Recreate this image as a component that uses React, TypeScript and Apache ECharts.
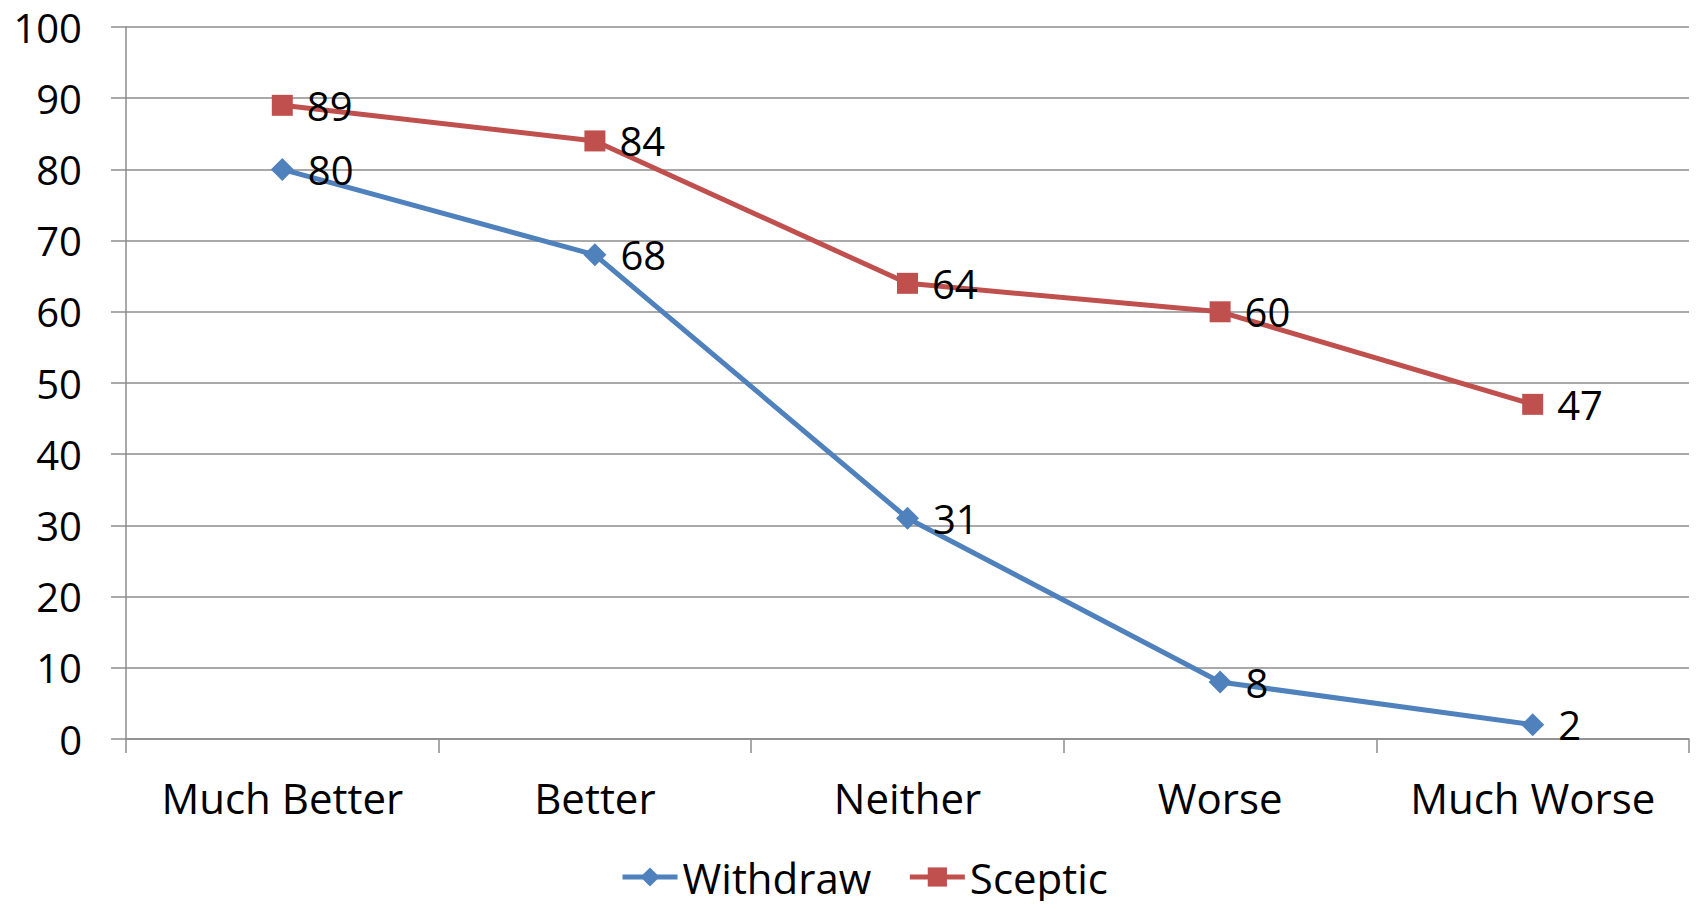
import React, { useEffect, useRef } from "react";
import * as echarts from "echarts";

const categories = ["Much Better", "Better", "Neither", "Worse", "Much Worse"];
const withdrawValues = [80, 68, 31, 8, 2];
const scepticValues = [89, 84, 64, 60, 47];
const yTicks = { min: 0, max: 100, interval: 10 };

const FONT = "'Open Sans', sans-serif";
const GRID_COLOR = "#8c8c8c";

export default function App() {
  const ref = useRef<HTMLDivElement>(null);
  useEffect(() => {
    if (!ref.current) return;
    const chart = echarts.init(ref.current, undefined, { renderer: "svg" });
    const labelStyle = {
      show: true,
      position: "right" as const,
      distance: 14,
      color: "#000",
      fontSize: 40,
      fontFamily: FONT,
    };
    chart.setOption({
      animation: false,
      textStyle: { fontFamily: FONT },
      grid: { left: 126, right: 9, top: 27, bottom: 170, containLabel: false },
      legend: {
        bottom: 2,
        left: 615,
        itemWidth: 55,
        itemHeight: 24,
        itemGap: 36,
        lineStyle: { width: 5 },
        textStyle: { fontSize: 42, color: "#000", fontFamily: FONT, lineHeight: 50 },
        data: ["Withdraw", "Sceptic"],
      },
      xAxis: {
        type: "category",
        data: categories,
        boundaryGap: true,
        axisLine: { show: true, lineStyle: { color: GRID_COLOR, width: 1.5 } },
        axisTick: { show: true, length: 14, interval: 0, alignWithLabel: false, lineStyle: { color: GRID_COLOR, width: 1.5 } },
        axisLabel: { color: "#000", fontSize: 42, fontFamily: FONT, margin: 37, interval: 0 },
        splitLine: { show: false },
      },
      yAxis: {
        type: "value",
        min: yTicks.min,
        max: yTicks.max,
        interval: yTicks.interval,
        axisLine: { show: true, lineStyle: { color: GRID_COLOR, width: 1.5 } },
        axisTick: { show: true, length: 15, lineStyle: { color: GRID_COLOR, width: 1.5 } },
        axisLabel: { color: "#000", fontSize: 40, fontFamily: FONT, margin: 44 },
        splitLine: { show: true, lineStyle: { color: GRID_COLOR, width: 1.5 } },
      },
      series: [
        {
          name: "Withdraw",
          type: "line",
          data: withdrawValues,
          symbol: "diamond",
          symbolSize: 23,
          itemStyle: { color: "#4F81BD" },
          lineStyle: { color: "#4F81BD", width: 5 },
          label: labelStyle,
        },
        {
          name: "Sceptic",
          type: "line",
          data: scepticValues,
          symbol: "rect",
          symbolSize: 21,
          itemStyle: { color: "#C0504D" },
          lineStyle: { color: "#C0504D", width: 5 },
          label: labelStyle,
        },
      ],
    });
    return () => chart.dispose();
  }, []);
  return <div ref={ref} style={{ width: 1698, height: 909, margin: -8 }} />;
}
